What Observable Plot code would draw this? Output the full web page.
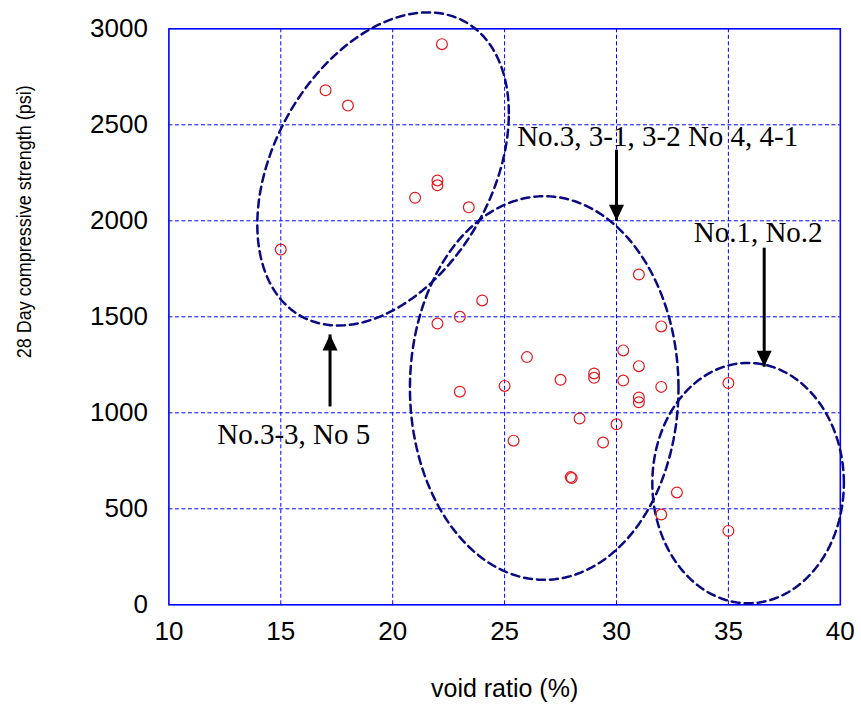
<!DOCTYPE html>
<html>
<head>
<meta charset="utf-8">
<script src="https://cdn.jsdelivr.net/npm/d3@7"></script>
<script src="https://cdn.jsdelivr.net/npm/@observablehq/plot@0.6"></script>
<style>
  body { margin: 0; background: #fff; }
</style>
</head>
<body>
<div id="chart"></div>
<script>
// Measured specimens: void ratio (%) and 28-day compressive strength (psi)
const voidRatio = [22.2, 17, 18, 22, 22, 21, 23.4, 15, 24, 23, 22,
  31, 32, 30.3, 26, 31, 29, 29, 27.5, 30.3, 32, 25, 23, 31, 31, 28.35, 30, 25.4, 29.4, 27.95, 28,
  35, 32.7, 32, 35];
const strength = [2920, 2680, 2600, 2210, 2185, 2120, 2070, 1850, 1585, 1500, 1465,
  1720, 1450, 1325, 1290, 1243, 1205, 1182, 1172, 1168, 1135, 1140, 1110, 1080, 1055, 970, 940, 855, 845, 665, 660,
  1155, 585, 470, 385];

// Axis ticks
const xTicks = [10, 15, 20, 25, 30, 35, 40];
const yTicks = [0, 500, 1000, 1500, 2000, 2500, 3000];

// Mix groups, outlined by ellipses: centre and two conjugate half-axes (data units)
const groupName = ["No.3-3, No 5", "No.3, 3-1, 3-2 No 4, 4-1", "No.1, No.2"];
const groupCx = [19.57, 26.77, 35.88];
const groupCy = [2270, 1129, 634];
const groupU = [[5.62, 290], [6.0, 0], [4.28, 0]];
const groupV = [[0, 762], [0, 999], [0, 626]];

// Callout labels and their arrows (data units)
const noteText = ["No.3, 3-1, 3-2 No 4, 4-1", "No.1, No.2", "No.3-3, No 5"];
const noteX = [25.56, 33.45, 12.16];
const noteY = [2392, 1892, 839];
const arrowX = [30, 36.6, 17.2];
const arrowFrom = [2370, 1860, 1033];
const arrowTo = [2000, 1240, 1408];

const points = voidRatio.map((v, i) => ({x: v, y: strength[i]}));

const outline = [];
groupName.forEach((g, k) => {
  const n = 160;
  for (let j = 0; j <= n; ++j) {
    const t = (2 * Math.PI * j) / n;
    outline.push({
      group: g,
      x: groupCx[k] + groupU[k][0] * Math.cos(t) + groupV[k][0] * Math.sin(t),
      y: groupCy[k] + groupU[k][1] * Math.cos(t) + groupV[k][1] * Math.sin(t)
    });
  }
});

const notes = noteText.map((t, i) => ({text: t, x: noteX[i], y: noteY[i]}));
const arrows = arrowX.map((x, i) => ({x, y1: arrowFrom[i], y2: arrowTo[i], down: arrowTo[i] < arrowFrom[i]}));

// Filled arrowheads with the tip at the symbol origin
const headDown = {draw(ctx) { ctx.moveTo(0, 0); ctx.lineTo(-7.5, -16); ctx.lineTo(7.5, -16); ctx.closePath(); }};
const headUp = {draw(ctx) { ctx.moveTo(0, 0); ctx.lineTo(-7.5, 16); ctx.lineTo(7.5, 16); ctx.closePath(); }};

const blue = "#0000ff";
const navy = "#0a0a80";
const sans = "'Liberation Sans', Arial, Helvetica, sans-serif";
const serif = "'Liberation Serif', 'Times New Roman', serif";

const chart = Plot.plot({
  width: 861,
  height: 704,
  marginLeft: 168.4,
  marginRight: 21.2,
  marginTop: 28.3,
  marginBottom: 99.7,
  style: {background: "#fff", fontFamily: sans, color: "#000"},
  x: {domain: [10, 40]},
  y: {domain: [0, 3000]},
  marks: [
    Plot.gridX(xTicks.slice(1, -1), {stroke: blue, strokeOpacity: 1, strokeWidth: 1, strokeDasharray: "4,2.5"}),
    Plot.gridY(yTicks.slice(1, -1), {stroke: blue, strokeOpacity: 1, strokeWidth: 1, strokeDasharray: "4,2.5"}),
    Plot.frame({stroke: blue, strokeWidth: 1.6}),
    Plot.axisX({ticks: xTicks, tickSize: 0, tickPadding: 17, fontSize: 26, label: null, tickFormat: d => String(d)}),
    Plot.axisY({ticks: yTicks, tickSize: 0, tickPadding: 21, fontSize: 26, label: null, tickFormat: d => String(d)}),
    Plot.text(["void ratio (%)"], {frameAnchor: "bottom", textAnchor: "middle", dy: 84, fontSize: 25, lineAnchor: "middle"}),
    Plot.text(["28 Day compressive strength (psi)"], {frameAnchor: "left", textAnchor: "middle", dx: -145, dy: -95, rotate: -90, fontSize: 21, lineAnchor: "middle", className: "ytitle"}),
    Plot.line(outline, {x: "x", y: "y", z: "group", stroke: navy, strokeWidth: 2.5, strokeDasharray: "8,5"}),
    Plot.dot(points, {x: "x", y: "y", r: 5.4, stroke: "#e8161b", strokeWidth: 1.2, fill: "none"}),
    Plot.link(arrows, {x1: "x", x2: "x", y1: "y1", y2: "y2", stroke: "#000", strokeWidth: 3}),
    Plot.dot(arrows.filter(d => d.down), {x: "x", y: "y2", symbol: headDown, r: 8, fill: "#000", stroke: "none"}),
    Plot.dot(arrows.filter(d => !d.down), {x: "x", y: "y2", symbol: headUp, r: 8, fill: "#000", stroke: "none"}),
    Plot.text(notes, {x: "x", y: "y", text: "text", textAnchor: "start", lineAnchor: "bottom", fontSize: 29, fontFamily: serif, fill: "#000"})
  ]
});

// Narrow the vertical axis title so it fits beside the tick labels
chart.querySelectorAll(".ytitle text").forEach(t => {
  t.setAttribute("textLength", "273");
  t.setAttribute("lengthAdjust", "spacingAndGlyphs");
});

document.getElementById("chart").appendChild(chart);
</script>
</body>
</html>
